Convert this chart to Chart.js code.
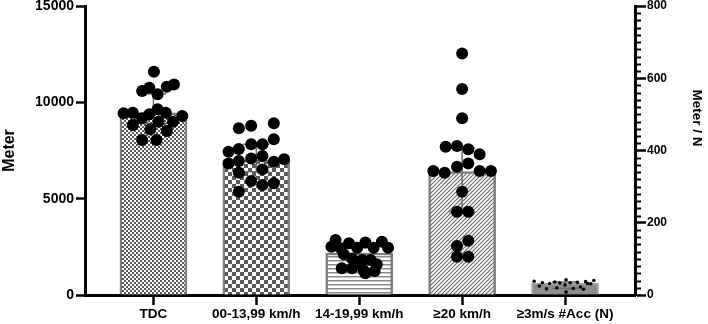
<!DOCTYPE html>
<html>
<head>
<meta charset="utf-8">
<script src="https://cdn.jsdelivr.net/npm/chart.js@4.4.1/dist/chart.umd.min.js"></script>
<style>
  html, body { margin: 0; padding: 0; background: #fff; }
  #wrap { width: 708px; height: 324px; position: relative; }
</style>
</head>
<body>
<div id="wrap"><canvas id="chart"></canvas></div>
<script>
// categorias do eixo X
const categories = ['TDC', '00-13,99 km/h', '14-19,99 km/h', '≥20 km/h', '≥3m/s #Acc (N)'];

// altura das barras (mediana) e intervalo interquartil
const medians = [9450, 7000, 2180, 6400, 33];
const q1 = [8900, 6400, 1390, 4320, 18];
const q3 = [10450, 7820, 2450, 7630, 36];

// marcas dos eixos
const leftTicks = [0, 5000, 10000, 15000];
const rightTicks = [0, 200, 400, 600, 800];

// pontos individuais (Meter), com deslocamento horizontal em unidades de categoria
const tdcValues = [11590, 10590, 10760, 10415, 10810, 10930, 9430, 9460, 9170, 9380, 9640, 9460, 9290, 8820, 8600, 8990, 8990, 8510, 8040, 8040];
const tdcJitter = [0.005, -0.11, -0.04, 0.04, 0.13, 0.2, -0.29, -0.2, -0.11, -0.04, 0.04, 0.12, 0.28, -0.2, -0.03, 0.05, 0.19, 0.13, -0.11, 0.03];

const slowValues = [8650, 8790, 8910, 8080, 7440, 7580, 7820, 7820, 6830, 6950, 7090, 7210, 6920, 7040, 6350, 6520, 5920, 5710, 5800, 5360];
const slowJitter = [-0.17, -0.05, 0.17, 0.17, -0.27, -0.17, -0.05, 0.06, -0.27, -0.17, -0.05, 0.06, 0.17, 0.27, -0.17, 0.06, -0.05, 0.06, 0.17, -0.17];

const midValues = [2850, 2680, 2730, 2770, 2510, 2420, 2450, 2450, 2450, 2110, 1900, 1820, 1820, 1650, 1590, 1390, 1390, 1300, 1250, 1130];
const midJitter = [-0.23, -0.1, 0.06, 0.22, -0.27, -0.18, -0.02, 0.14, 0.28, -0.15, -0.07, 0.03, 0.11, -0.02, 0.17, -0.17, -0.07, 0.04, 0.15, 0.06];

const fastValues = [12540, 10690, 9170, 7700, 7730, 7560, 7300, 6830, 6660, 6430, 6350, 6430, 6430, 5360, 4320, 4320, 2820, 2540, 1990, 1990];
const fastJitter = [0, 0, 0, -0.16, -0.05, 0.06, 0.17, 0.06, -0.05, -0.28, -0.17, 0.17, 0.28, 0, -0.05, 0.06, 0.06, -0.05, -0.05, 0.06];

// aceleracoes (N), eixo direito
const accValues = [42, 40, 38, 37, 36, 35, 34, 34, 33, 32, 32, 31, 28, 25, 22, 20, 18, 17, 16, 8];
const accJitter = [0.01, 0.28, -0.3, 0.2, -0.1, 0.12, -0.22, 0.05, -0.05, 0.22, -0.15, 0.25, 0, -0.25, 0.15, -0.08, 0.08, -0.18, 0.18, 0.01];

const FONT = "'Liberation Sans', Arial, Helvetica, sans-serif";
Chart.defaults.font.family = FONT;
Chart.defaults.color = '#000';

// preenchimentos com textura
function pattern(kind) {
  const c = document.createElement('canvas');
  const g = c.getContext('2d');
  if (kind === 'fine') {
    c.width = c.height = 4;
    g.fillStyle = '#fff'; g.fillRect(0, 0, 4, 4);
    g.fillStyle = '#5a5a5a'; g.fillRect(0, 0, 2, 2); g.fillRect(2, 2, 2, 2);
  } else if (kind === 'checker') {
    c.width = c.height = 8;
    g.fillStyle = '#fff'; g.fillRect(0, 0, 8, 8);
    g.fillStyle = '#5a5a5a'; g.fillRect(0, 0, 4, 4); g.fillRect(4, 4, 4, 4);
  } else if (kind === 'hlines') {
    c.width = 4; c.height = 4;
    g.fillStyle = '#fff'; g.fillRect(0, 0, 4, 4);
    g.fillStyle = '#8a8a8a'; g.fillRect(0, 0, 4, 1.5);
  } else {
    c.width = c.height = 4;
    g.fillStyle = '#fff'; g.fillRect(0, 0, 4, 4);
    g.strokeStyle = '#6e6e6e'; g.lineWidth = 1.2;
    g.beginPath();
    g.moveTo(0, 4); g.lineTo(4, 0);
    g.moveTo(-1, 1); g.lineTo(1, -1);
    g.moveTo(3, 5); g.lineTo(5, 3);
    g.stroke();
  }
  return g.createPattern(c, 'repeat');
}

const points = (vals, jit, idx) => vals.map((v, j) => ({ x: idx + 1 + jit[j], y: v }));

const dotSet = (data, axis, r) => ({
  type: 'scatter', data, yAxisID: axis, order: 1,
  pointRadius: r, pointHoverRadius: r, backgroundColor: '#000', borderWidth: 0
});

// linhas do intervalo interquartil, desenhadas logo depois das barras
const extras = {
  id: 'extras',
  afterDatasetDraw(chart, args) {
    if (args.meta.type !== 'bar') return;
    const g = chart.ctx;
    const xs = chart.scales.x;
    const ys = chart.scales[args.meta.yAxisID];
    const idxs = args.meta.yAxisID === 'y' ? [0, 1, 2, 3] : [4];
    g.save();
    g.strokeStyle = '#6e6e6e';
    g.lineWidth = 1.5;
    idxs.forEach(i => {
      const px = xs.getPixelForValue(i + 1);
      const lo = ys.getPixelForValue(q1[i]);
      const hi = ys.getPixelForValue(q3[i]);
      g.beginPath();
      g.moveTo(px, lo); g.lineTo(px, hi);
      g.moveTo(px - 13, lo); g.lineTo(px + 13, lo);
      g.moveTo(px - 13, hi); g.lineTo(px + 13, hi);
      g.stroke();
    });
    g.restore();
  },
  afterDraw(chart) {
    const g = chart.ctx;
    const s = chart.scales.y2;
    g.save();
    // marcas menores do eixo direito
    g.strokeStyle = '#000';
    g.lineWidth = 2;
    for (let v = 20; v < 800; v += 20) {
      if (v % 200 === 0) continue;
      const py = Math.round(s.getPixelForValue(v)) + 0.5;
      g.beginPath(); g.moveTo(s.left, py); g.lineTo(s.left + 6, py); g.stroke();
    }
    // titulo do eixo direito
    g.translate(697, 118);
    g.rotate(Math.PI / 2);
    g.font = 'bold 13.5px ' + FONT;
    g.fillStyle = '#000';
    g.textAlign = 'center';
    g.textBaseline = 'middle';
    g.fillText('Meter / N', 0, 0);
    g.restore();
  }
};

const ctx = document.getElementById('chart').getContext('2d');

new Chart(ctx, {
  type: 'bar',
  data: {
    datasets: [
      {
        type: 'bar', yAxisID: 'y', order: 2, grouped: false,
        data: medians.slice(0, 4).map((v, i) => ({ x: i + 1, y: v })),
        backgroundColor: [pattern('fine'), pattern('checker'), pattern('hlines'), pattern('diag')],
        borderColor: '#7d7d7d', borderWidth: 2.5, barThickness: 67
      },
      {
        type: 'bar', yAxisID: 'y2', order: 2, grouped: false,
        data: [{ x: 5, y: medians[4] }],
        backgroundColor: '#8d8d8d', borderColor: '#a5a5a5', borderWidth: 2, barThickness: 67
      },
      dotSet(points(tdcValues, tdcJitter, 0), 'y', 6),
      dotSet(points(slowValues, slowJitter, 1), 'y', 6),
      dotSet(points(midValues, midJitter, 2), 'y', 6),
      dotSet(points(fastValues, fastJitter, 3), 'y', 6),
      dotSet(points(accValues, accJitter, 4), 'y2', 1.8)
    ]
  },
  options: {
    responsive: true,
    maintainAspectRatio: false,
    animation: false,
    layout: { padding: { top: 6, left: 0, right: 0, bottom: 0 } },
    plugins: { legend: { display: false }, tooltip: { enabled: false } },
    scales: {
      x: {
        type: 'linear', min: 0.335, max: 5.68, offset: false,
        afterBuildTicks: s => { s.ticks = categories.map((_, i) => ({ value: i + 1 })); },
        ticks: {
          callback: v => categories[v - 1],
          font: { size: 13.5, weight: 'bold' }, padding: 1, maxRotation: 0, autoSkip: false
        },
        grid: { offset: false, drawOnChartArea: false, drawTicks: true, tickLength: 10, tickWidth: 2.5, tickColor: '#000' },
        border: { display: true, color: '#000', width: 3 },
        afterFit: s => { s.height = 29; s.paddingLeft = 0; s.paddingRight = 0; }
      },
      y: {
        position: 'left', min: 0, max: 15000,
        afterBuildTicks: s => { s.ticks = leftTicks.map(v => ({ value: v })); },
        ticks: { font: { size: 14, weight: 'bold' }, padding: 2, callback: v => String(v) },
        grid: { drawOnChartArea: false, drawTicks: true, tickLength: 9, tickWidth: 2.5, tickColor: '#000' },
        border: { display: true, color: '#000', width: 3 },
        title: { display: true, text: 'Meter', font: { size: 16, weight: 'bold' }, padding: 0 },
        afterFit: s => { s.width = 85; s.paddingTop = 0; s.paddingBottom = 0; }
      },
      y2: {
        position: 'right', min: 0, max: 800,
        afterBuildTicks: s => { s.ticks = rightTicks.map(v => ({ value: v })); },
        ticks: { font: { size: 12, weight: 'bold' }, padding: 1, callback: v => String(v) },
        grid: { drawOnChartArea: false, drawTicks: true, tickLength: 11, tickWidth: 2.5, tickColor: '#000' },
        border: { display: true, color: '#000', width: 3 },
        afterFit: s => { s.width = 73; s.paddingTop = 0; s.paddingBottom = 0; }
      }
    }
  },
  plugins: [extras]
});
</script>
</body>
</html>
